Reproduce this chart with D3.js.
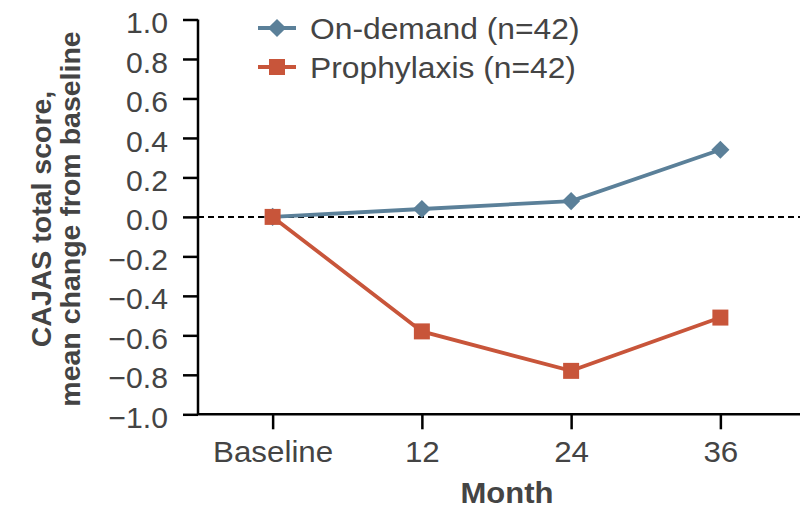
<!DOCTYPE html>
<html>
<head>
<meta charset="utf-8">
<script src="https://cdn.jsdelivr.net/npm/d3@7"></script>
<style>
  html, body { margin: 0; padding: 0; background: #fff; }
  svg { display: block; }
  text { font-family: "Liberation Sans", Arial, Helvetica, sans-serif; fill: #444; }
</style>
</head>
<body>
<svg id="chart" width="808" height="508"></svg>
<script>
const categories = ["Baseline", "12", "24", "36"];
const onDemand = [0.0, 0.04, 0.08, 0.34];
const prophylaxis = [0.0, -0.58, -0.78, -0.51];
const yTicks = [1.0, 0.8, 0.6, 0.4, 0.2, 0.0, -0.2, -0.4, -0.6, -0.8, -1.0];
const seriesNames = ["On-demand (n=42)", "Prophylaxis (n=42)"];

const colors = ["#5b8099", "#c8553a"];
const svg = d3.select("#chart");

const x = d3.scalePoint().domain(categories).range([198, 795]).padding(0.5);
const y = d3.scaleLinear().domain([-1, 1]).range([414.3, 19.5]);
const xEnd = 800;

// zero dashed line
svg.append("line")
  .attr("x1", x.range()[0]).attr("x2", xEnd)
  .attr("y1", y(0)).attr("y2", y(0))
  .attr("stroke", "#000").attr("stroke-width", 2)
  .attr("stroke-dasharray", "6,4");

// y axis
const yAxis = d3.axisLeft(y).tickValues(yTicks).tickSize(15).tickPadding(15)
  .tickFormat(d => d3.format(".1f")(d).replace("-", "\u2212"));
const gy = svg.append("g").attr("transform", `translate(${x.range()[0]},0)`).call(yAxis);
gy.select(".domain").remove();
gy.selectAll(".tick line").attr("stroke", "#000").attr("stroke-width", 2.5);
gy.selectAll(".tick text").attr("font-size", 29).attr("fill", "#444").attr("dy", "0.45em")
  .attr("x", 0).attr("transform", "translate(-30,0) scale(1.04,1)");

// x axis
const xAxis = d3.axisBottom(x).tickSize(15).tickPadding(12);
const gx = svg.append("g").attr("transform", `translate(0,${y(-1)})`).call(xAxis);
gx.select(".domain").remove();
gx.selectAll(".tick line").attr("stroke", "#000").attr("stroke-width", 2.5);
gx.selectAll(".tick text").attr("font-size", 29).attr("fill", "#444")
  .attr("transform", "scale(1.08,1)");

// axis lines
svg.append("path")
  .attr("d", `M${x.range()[0]},${y(1)}V${y(-1)}H${xEnd}`)
  .attr("fill", "none").attr("stroke", "#000").attr("stroke-width", 2.5);

// series
const series = [onDemand, prophylaxis];
const symbols = [d3.symbolDiamond2, d3.symbolSquare];
const sizes = [210, 256];
const line = d3.line().x((d, i) => x(categories[i])).y(d => y(d));

series.forEach((vals, si) => {
  const g = svg.append("g");
  g.append("path").datum(vals).attr("d", line)
    .attr("fill", "none").attr("stroke", colors[si]).attr("stroke-width", 3.8);
  g.selectAll("path.pt").data(vals).enter().append("path")
    .attr("class", "pt")
    .attr("transform", (d, i) => `translate(${x(categories[i])},${y(d)})`)
    .attr("d", d3.symbol().type(symbols[si]).size(sizes[si])())
    .attr("fill", colors[si]);
});

// legend
const legendY = [28, 67];
seriesNames.forEach((name, i) => {
  const g = svg.append("g").attr("transform", `translate(0,${legendY[i]})`);
  g.append("line").attr("x1", 258).attr("x2", 296).attr("y1", 0).attr("y2", 0)
    .attr("stroke", colors[i]).attr("stroke-width", 3.8);
  g.append("path").attr("transform", "translate(277,0)")
    .attr("d", d3.symbol().type(symbols[i]).size(sizes[i])())
    .attr("fill", colors[i]);
  g.append("text").attr("transform", "translate(310,0) scale(1.06,1)")
    .attr("x", 0).attr("y", 0).attr("dy", "0.36em")
    .attr("font-size", 30).text(name);
});

// axis titles
svg.append("text").attr("transform", "translate(507,503) scale(1.07,1)")
  .attr("text-anchor", "middle")
  .attr("font-size", 29).attr("font-weight", "bold").text("Month");

const yl = svg.append("text").attr("transform", "translate(0,219) rotate(-90)")
  .attr("text-anchor", "middle").attr("font-size", 28.5).attr("font-weight", "bold");
yl.append("tspan").attr("x", 0).attr("y", 51).text("CAJAS total score,");
yl.append("tspan").attr("x", 0).attr("y", 80).text("mean change from baseline");
</script>
</body>
</html>
